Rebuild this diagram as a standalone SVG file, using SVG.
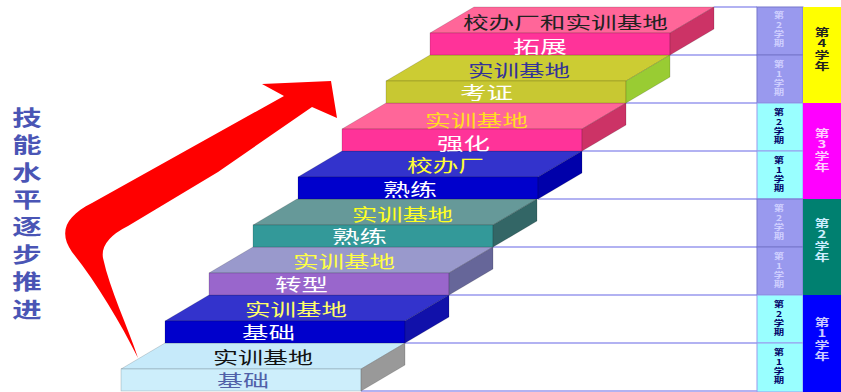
<svg xmlns="http://www.w3.org/2000/svg" width="841" height="392" viewBox="0 0 841 392">
<style>
.lbl{font-family:"Noto Sans CJK SC","Noto Sans CJK JP",sans-serif;font-size:17px}
.side{font-family:"Noto Sans CJK SC",sans-serif;font-size:21px;font-weight:bold;fill:#4a55b5;text-anchor:middle;writing-mode:vertical-rl;text-orientation:upright;letter-spacing:6.4px}
.sem{font-family:"Noto Sans CJK SC",sans-serif;font-size:8px;font-weight:bold;text-anchor:middle;writing-mode:vertical-rl;text-orientation:upright;letter-spacing:1.4px}
.yr{font-family:"Noto Sans CJK SC",sans-serif;font-size:10px;font-weight:bold;text-anchor:middle;writing-mode:vertical-rl;text-orientation:upright;letter-spacing:1.5px}
.edge{stroke:#000;stroke-opacity:0.25;stroke-width:0.6}
.grid{stroke:#9999ee;stroke-width:1.5}
</style>
<rect width="841" height="392" fill="#fff"/>

<g id="title">
<text class="side" transform="translate(27,216) scale(1.4,1)" x="0" y="0">技能水平逐步推进</text>
</g>

<g id="connectors">
<line class="grid" x1="361" y1="391" x2="757" y2="391"/>
<line class="grid" x1="405" y1="343" x2="757" y2="343"/>
<line class="grid" x1="449" y1="295" x2="757" y2="295"/>
<line class="grid" x1="493" y1="247" x2="757" y2="247"/>
<line class="grid" x1="538" y1="199" x2="757" y2="199"/>
<line class="grid" x1="582" y1="151" x2="757" y2="151"/>
<line class="grid" x1="626" y1="103" x2="757" y2="103"/>
<line class="grid" x1="670" y1="55" x2="757" y2="55"/>
<line class="grid" x1="714" y1="7" x2="757" y2="7"/>
</g>

<g id="arrow">
<path fill="#ff0000" d="M138 358 C120 322 96 282 72 252 C58 232 66 216 92 203 L284 96 L262 84 L331 81 L337 118 L312 107 L218 172 L128 226 Q100 240 103 258 C110 290 127 325 138 358 Z"/>
</g>

<g id="step1">
<polygon class="edge" fill="#c6eafa" points="121,369 165,343 405,343 361,369"/>
<rect class="edge" fill="#cdeefb" x="121" y="369" width="240" height="22"/>
<polygon class="edge" fill="#999999" points="361,369 405,343 405,365 361,391"/>
<text class="lbl" fill="#111" x="213" y="363.5" textLength="100" lengthAdjust="spacingAndGlyphs">实训基地</text>
<text class="lbl" fill="#5060a8" x="217" y="386.5" textLength="52" lengthAdjust="spacingAndGlyphs">基础</text>
</g>

<g id="step2">
<polygon class="edge" fill="#3333cc" points="165,321 209,295 449,295 405,321"/>
<rect class="edge" fill="#0000cc" x="165" y="321" width="240" height="22"/>
<polygon class="edge" fill="#1111aa" points="405,321 449,295 449,317 405,343"/>
<text class="lbl" fill="#ffff66" x="245" y="315.5" textLength="102" lengthAdjust="spacingAndGlyphs">实训基地</text>
<text class="lbl" fill="#ffffff" x="242" y="339" textLength="53" lengthAdjust="spacingAndGlyphs">基础</text>
</g>

<g id="step3">
<polygon class="edge" fill="#9999cc" points="209,273 253,247 493,247 449,273"/>
<rect class="edge" fill="#9966cc" x="209" y="273" width="240" height="22"/>
<polygon class="edge" fill="#666699" points="449,273 493,247 493,269 449,295"/>
<text class="lbl" fill="#ffff44" x="293" y="267.5" textLength="102" lengthAdjust="spacingAndGlyphs">实训基地</text>
<text class="lbl" fill="#ffffff" x="275" y="291" textLength="53" lengthAdjust="spacingAndGlyphs">转型</text>
</g>

<g id="step4">
<polygon class="edge" fill="#669999" points="253,225 297,199 537,199 493,225"/>
<rect class="edge" fill="#339999" x="253" y="225" width="240" height="22"/>
<polygon class="edge" fill="#336666" points="493,225 537,199 537,221 493,247"/>
<text class="lbl" fill="#ffff22" x="352" y="220.5" textLength="101" lengthAdjust="spacingAndGlyphs">实训基地</text>
<text class="lbl" fill="#ffffff" x="332" y="243" textLength="55" lengthAdjust="spacingAndGlyphs">熟练</text>
</g>

<g id="step5">
<polygon class="edge" fill="#3333cc" points="298,177 342,151 582,151 538,177"/>
<rect class="edge" fill="#0000cc" x="298" y="177" width="240" height="22"/>
<polygon class="edge" fill="#0000aa" points="538,177 582,151 582,173 538,199"/>
<text class="lbl" fill="#ffff33" x="407" y="171.5" textLength="77" lengthAdjust="spacingAndGlyphs">校办厂</text>
<text class="lbl" fill="#ffffff" x="383" y="196" textLength="54" lengthAdjust="spacingAndGlyphs">熟练</text>
</g>

<g id="step6">
<polygon class="edge" fill="#ff6699" points="342,129 386,103 626,103 582,129"/>
<rect class="edge" fill="#ff3399" x="342" y="129" width="240" height="22"/>
<polygon class="edge" fill="#cc3366" points="582,129 626,103 626,125 582,151"/>
<text class="lbl" fill="#ffdd22" x="425" y="126.5" textLength="103" lengthAdjust="spacingAndGlyphs">实训基地</text>
<text class="lbl" fill="#ffffff" x="437" y="150" textLength="53" lengthAdjust="spacingAndGlyphs">强化</text>
</g>

<g id="step7">
<polygon class="edge" fill="#cccc33" points="386,81 430,55 670,55 626,81"/>
<rect class="edge" fill="#c8c832" x="386" y="81" width="240" height="22"/>
<polygon class="edge" fill="#99cc33" points="626,81 670,55 670,77 626,103"/>
<text class="lbl" fill="#333399" x="468" y="76.5" textLength="102" lengthAdjust="spacingAndGlyphs">实训基地</text>
<text class="lbl" fill="#ffffff" x="460" y="99" textLength="53" lengthAdjust="spacingAndGlyphs">考证</text>
</g>

<g id="step8">
<polygon class="edge" fill="#ff6699" points="430,33 474,7 714,7 670,33"/>
<rect class="edge" fill="#ff3399" x="430" y="33" width="240" height="22"/>
<polygon class="edge" fill="#cc3366" points="670,33 714,7 714,29 670,55"/>
<text class="lbl" fill="#222" x="463" y="28.5" textLength="205" lengthAdjust="spacingAndGlyphs">校办厂和实训基地</text>
<text class="lbl" fill="#ffffff" x="513" y="53" textLength="54" lengthAdjust="spacingAndGlyphs">拓展</text>
</g>

<g id="semesters">
<rect x="757" y="7" width="46" height="48" fill="#9999ee" stroke="#7777cc" stroke-width="1"/>
<rect x="757" y="55" width="46" height="48" fill="#9999ee" stroke="#7777cc" stroke-width="1"/>
<rect x="757" y="103" width="46" height="48" fill="#99ffff" stroke="#9999ee" stroke-width="1"/>
<rect x="757" y="151" width="46" height="48" fill="#99ffff" stroke="#9999ee" stroke-width="1"/>
<rect x="757" y="199" width="46" height="48" fill="#9999ee" stroke="#7777cc" stroke-width="1"/>
<rect x="757" y="247" width="46" height="48" fill="#9999ee" stroke="#7777cc" stroke-width="1"/>
<rect x="757" y="295" width="46" height="48" fill="#99ffff" stroke="#9999ee" stroke-width="1"/>
<rect x="757" y="343" width="46" height="49" fill="#99ffff" stroke="#9999ee" stroke-width="1"/>
<g fill="#d0d0ff">
<text class="sem" transform="translate(779,30) scale(1.3,1)" x="0" y="0">第2学期</text>
<text class="sem" transform="translate(779,79) scale(1.3,1)" x="0" y="0">第1学期</text>
<text class="sem" transform="translate(779,223) scale(1.3,1)" x="0" y="0">第2学期</text>
<text class="sem" transform="translate(779,271) scale(1.3,1)" x="0" y="0">第1学期</text>
</g>
<g fill="#000066">
<text class="sem" transform="translate(779,127) scale(1.3,1)" x="0" y="0">第2学期</text>
<text class="sem" transform="translate(779,175) scale(1.3,1)" x="0" y="0">第1学期</text>
<text class="sem" transform="translate(779,319) scale(1.3,1)" x="0" y="0">第2学期</text>
<text class="sem" transform="translate(779,367) scale(1.3,1)" x="0" y="0">第1学期</text>
</g>
</g>

<g id="years">
<rect x="803" y="7" width="38" height="96" fill="#ffff00"/>
<rect x="803" y="103" width="38" height="96" fill="#ff00ff"/>
<rect x="803" y="199" width="38" height="96" fill="#008070"/>
<rect x="803" y="295" width="38" height="97" fill="#0000ff"/>
<text class="yr" fill="#222" transform="translate(822,50) scale(1.5,1)" x="0" y="0">第4学年</text>
<text class="yr" fill="#ffccff" transform="translate(822,151) scale(1.5,1)" x="0" y="0">第3学年</text>
<text class="yr" fill="#cceeff" transform="translate(822,241) scale(1.5,1)" x="0" y="0">第2学年</text>
<text class="yr" fill="#ccccff" transform="translate(822,340) scale(1.5,1)" x="0" y="0">第1学年</text>
</g>
</svg>
